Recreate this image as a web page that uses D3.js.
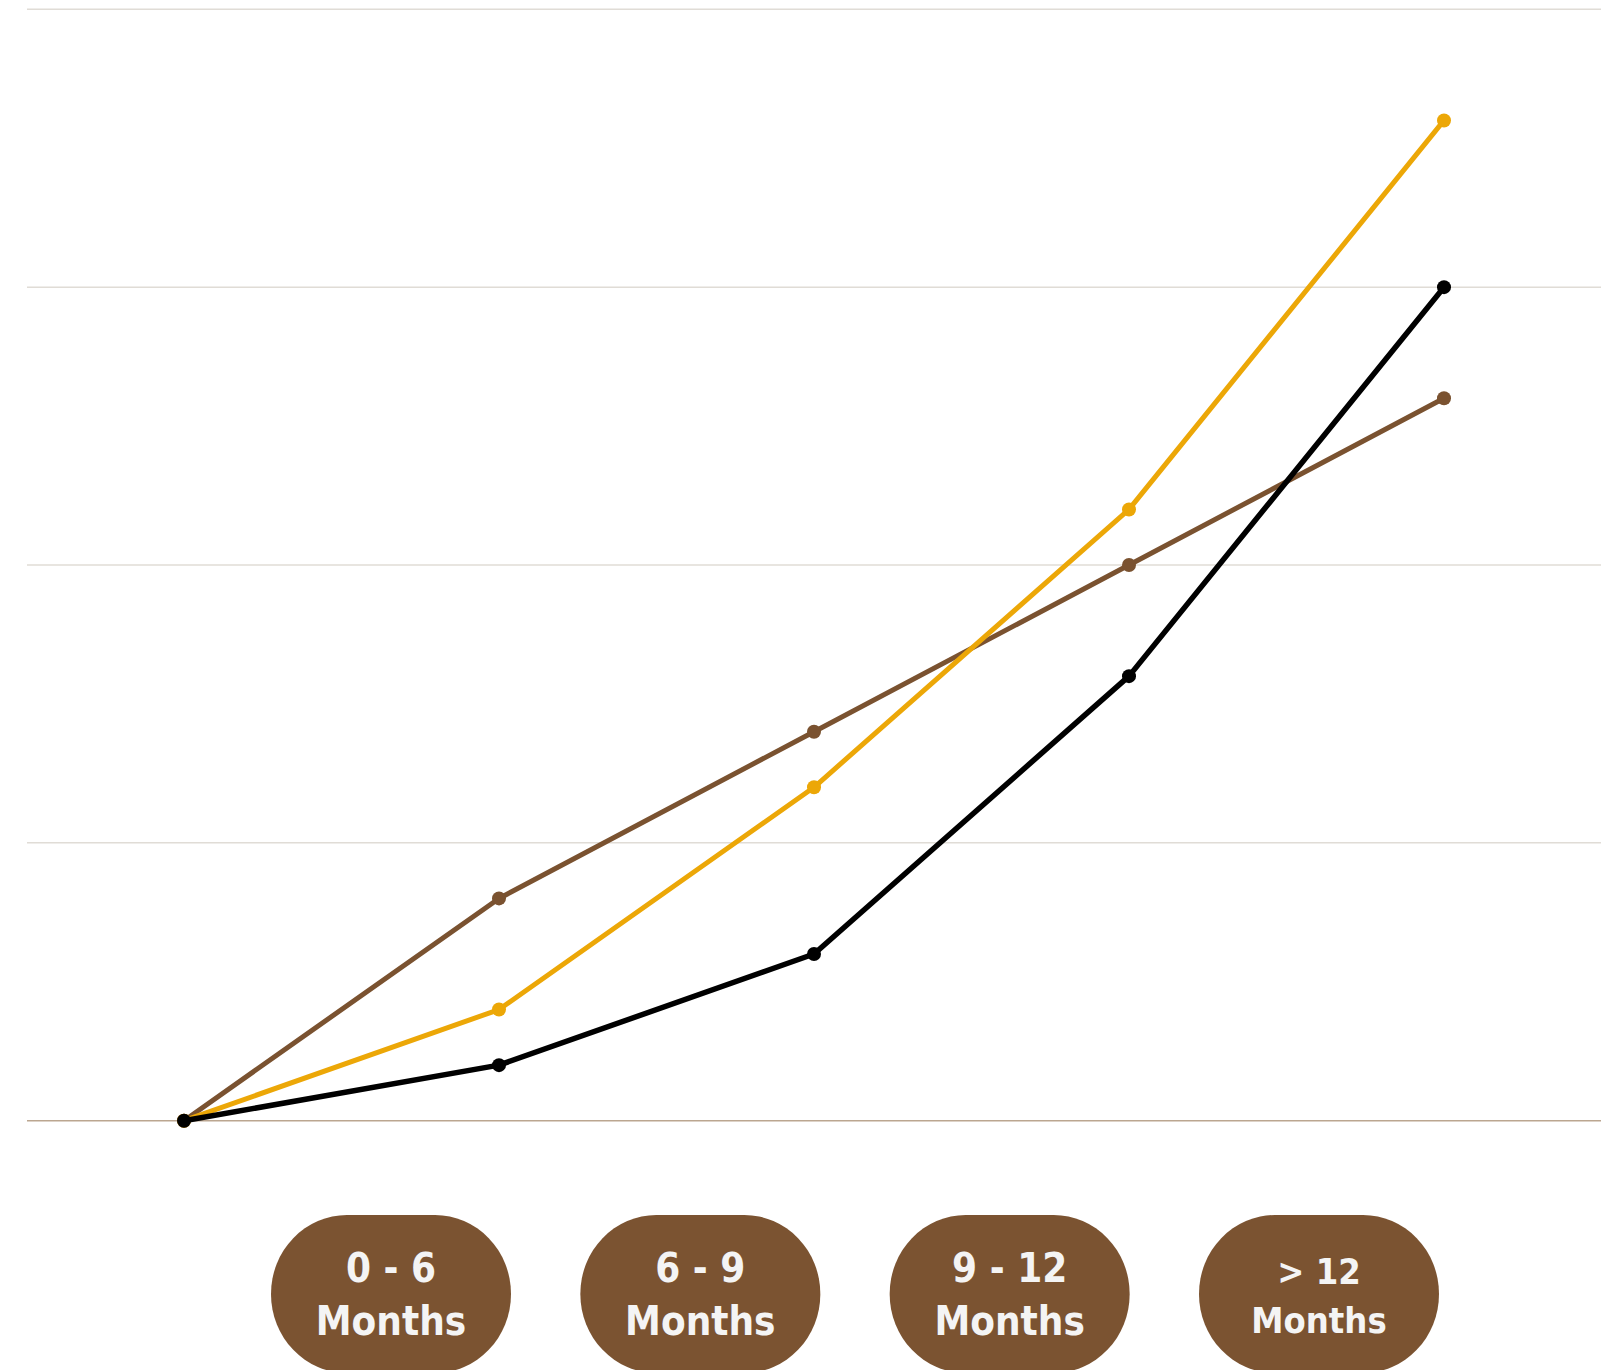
<!DOCTYPE html>
<html>
<head>
<meta charset="utf-8">
<script src="https://cdn.jsdelivr.net/npm/d3@7"></script>
<style>
	body { margin: 0; background: #ffffff; }
	svg { display: block; }
</style>
</head>
<body>
<div id="chart"></div>
<script>
// data
var steps = [0, 1, 2, 3, 4];
var brownVals = [0, 20, 35, 50, 65];
var yellowVals = [0, 10, 30, 55, 90];
var blackVals = [0, 5, 15, 40, 75];
var gridTicks = [0, 25, 50, 75, 100];
var labelTop = ["0 - 6", "6 - 9", "9 - 12", "> 12"];
var labelBottom = ["Months", "Months", "Months", "Months"];

var ctx = {
	width: 1621,
	height: 1370,
	brown: "#7a5230",
	yellow: "#eca707",
	black: "#000000",
};

var svg = d3
	.select("#chart")
	.append("svg")
	.attr("width", ctx.width)
	.attr("height", ctx.height);

var xscale = d3.scaleLinear().domain([0, 4]).range([184, 1444]);
var yscale = d3.scaleLinear().domain([0, 100]).range([1120.7, 9.3]);

// grid lines
svg.append("g")
	.selectAll("line")
	.data(gridTicks)
	.join("line")
	.attr("x1", 27)
	.attr("x2", 1601)
	.attr("y1", (d) => yscale(d))
	.attr("y2", (d) => yscale(d))
	.attr("stroke", (d) => (d == 0 ? "#bba690" : "#e0dcd6"))
	.attr("stroke-width", 1.5);

var series = [
	{ vals: brownVals, color: ctx.brown, w: 5 },
	{ vals: yellowVals, color: ctx.yellow, w: 5 },
	{ vals: blackVals, color: ctx.black, w: 5.5 },
];

var line = d3
	.line()
	.x((d, i) => xscale(steps[i]))
	.y((d) => yscale(d));

series.forEach(function (s) {
	svg.append("path")
		.datum(s.vals)
		.attr("d", line)
		.attr("fill", "none")
		.attr("stroke", s.color)
		.attr("stroke-width", s.w)
		.attr("stroke-linejoin", "round");

	svg.append("g")
		.selectAll("circle")
		.data(s.vals)
		.join("circle")
		.attr("cx", (d, i) => xscale(steps[i]))
		.attr("cy", (d) => yscale(d))
		.attr("r", 7)
		.attr("fill", s.color);
});

// category pills
var pillScale = d3.scaleLinear().domain([0, 3]).range([391, 1319]);

var pills = svg
	.append("g")
	.selectAll("g")
	.data(labelTop)
	.join("g")
	.attr("transform", (d, i) => "translate(" + pillScale(i) + ",0)");

pills.append("rect")
	.attr("x", -120)
	.attr("y", 1215)
	.attr("width", 240)
	.attr("height", 158)
	.attr("rx", 76)
	.attr("ry", 79)
	.attr("fill", "#7b5331");

pills.append("text")
	.attr("text-anchor", "middle")
	.attr("y", (d, i) => (i == 3 ? 1284 : 1282))
	.style("font-family", "'DejaVu Sans Condensed', 'DejaVu Sans'")
	.style("font-stretch", "condensed")
	.style("font-weight", "bold")
	.style("font-size", (d, i) => (i == 3 ? "36px" : "40px"))
	.attr("fill", "#f4f4f4")
	.text((d) => d);

pills.append("text")
	.attr("text-anchor", "middle")
	.attr("y", (d, i) => (i == 3 ? 1333 : 1335))
	.style("font-family", "'DejaVu Sans Condensed', 'DejaVu Sans'")
	.style("font-stretch", "condensed")
	.style("font-weight", "bold")
	.style("font-size", (d, i) => (i == 3 ? "36px" : "40px"))
	.attr("fill", "#f4f4f4")
	.text((d, i) => labelBottom[i]);
</script>
</body>
</html>
